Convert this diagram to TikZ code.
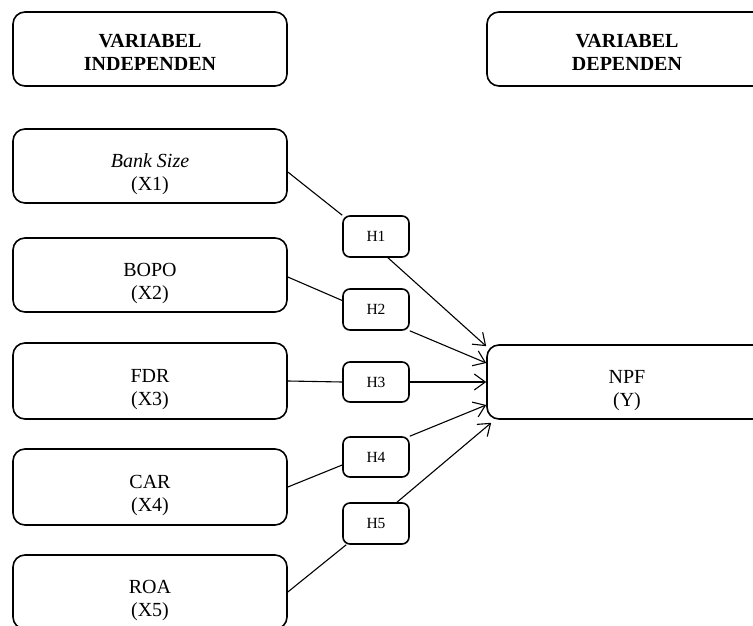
\documentclass[tikz,border=0pt]{standalone}
\usepackage{fontspec}
\setmainfont{Liberation Serif}
\usetikzlibrary{arrows.meta}
\newcommand{\padA}{\rule{0pt}{30pt}}
\newcommand{\padB}{\rule{0pt}{20pt}}
\begin{document}
\begin{tikzpicture}[x=1pt,y=-1pt,
  bigbox/.style={draw, line width=1.6pt, rounded corners=12pt, minimum width=274pt, minimum height=74pt, align=center, font=\fontsize{20}{23}\selectfont, inner sep=0pt},
  headbox/.style={bigbox, font=\fontsize{20}{23}\selectfont\bfseries},
  hbox/.style={draw, line width=1.6pt, rounded corners=7pt, minimum width=66pt, minimum height=40pt, font=\fontsize{15.5}{18}\selectfont, inner sep=0pt},
  conn/.style={line width=1.1pt},
  arr/.style={conn, -{Straight Barb[length=11pt,width=16pt,line width=1.1pt]}}]
\useasboundingbox (0,0) rectangle (753,626);
\node[headbox] (ind) at (150,49) {\padB VARIABEL\\INDEPENDEN};
\node[headbox, minimum width=280pt] (dep) at (627,49) {\padB VARIABEL\\DEPENDEN};
\node[bigbox] (bs) at (150,166) {\padA\textit{Bank Size}\\(X1)};
\node[bigbox] (bopo) at (150,275) {\padA BOPO\\(X2)};
\node[bigbox, minimum height=76pt] (fdr) at (150,381) {\padA FDR\\(X3)};
\node[bigbox, minimum height=76pt] (car) at (150,487) {\padA CAR\\(X4)};
\node[bigbox] (roa) at (150,592) {\padA ROA\\(X5)};
\node[bigbox, minimum width=280pt] (npf) at (627,382) {\padA NPF\\(Y)};
\node[hbox, minimum height=41pt] (h1) at (376,236.5) {H1};
\node[hbox, minimum height=41pt] (h2) at (376,309.5) {H2};
\node[hbox] (h3) at (376,382) {H3};
\node[hbox] (h4) at (376,457) {H4};
\node[hbox, minimum height=41pt] (h5) at (376,523.5) {H5};
\draw[conn] ([yshift=-6pt]bs.east) -- (h1.north west);
\draw[conn] ([yshift=-2pt]bopo.east) -- ([yshift=9pt]h2.west);
\draw[conn] (fdr.east) -- (h3.west);
\draw[conn] (car.east) -- ([yshift=-8pt]h4.west);
\draw[conn] (roa.east) -- ([xshift=4pt]h5.south west);
\draw[arr] ([xshift=12pt]h1.south) -- ([yshift=-2pt]npf.north west);
\draw[arr] (h2.south east) -- ([yshift=19pt]npf.west);
\draw[arr] (h3.east) -- (npf.west);
\draw[arr] (h4.north east) -- ([yshift=-23pt]npf.west);
\draw[arr] ([xshift=21pt]h5.north) -- ([xshift=5pt,yshift=-3pt]npf.south west);
\end{tikzpicture}
\end{document}
